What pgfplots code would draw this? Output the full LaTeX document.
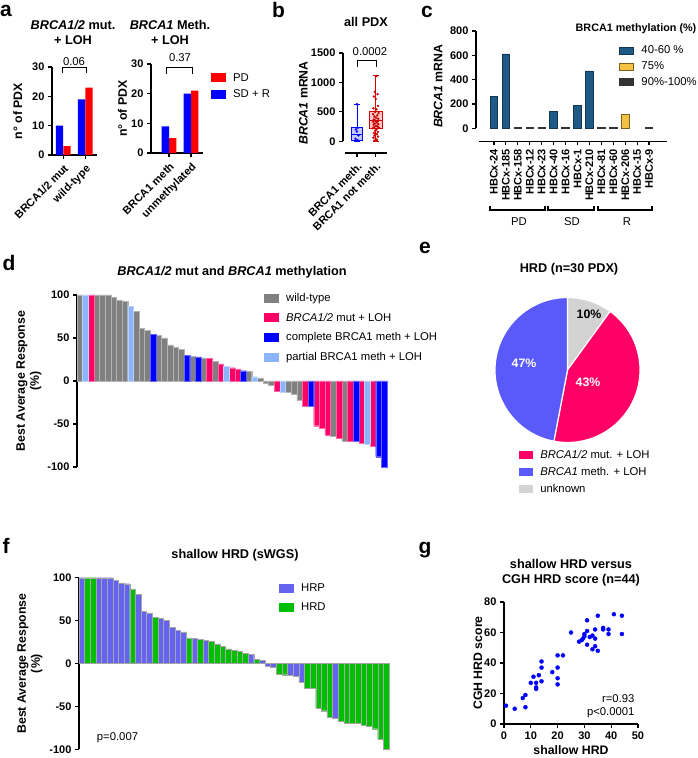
\documentclass[border=0pt]{standalone}
\usepackage{fontspec}
\setmainfont{Liberation Sans}
\usepackage{pgfplots}
\pgfplotsset{compat=1.18}
\usepgfplotslibrary{statistics}

\definecolor{wt}{RGB}{128,128,128}
\definecolor{mut}{RGB}{255,0,102}
\definecolor{comp}{RGB}{0,0,255}
\definecolor{part}{RGB}{140,180,250}
\definecolor{hrp}{RGB}{100,100,240}
\definecolor{hrd}{RGB}{0,190,0}
\definecolor{piepink}{RGB}{255,0,102}
\definecolor{pieblue}{RGB}{90,90,250}
\definecolor{piegray}{RGB}{211,211,211}
\definecolor{cblue}{RGB}{31,90,135}
\definecolor{cyel}{RGB}{245,195,66}
\definecolor{cdark}{RGB}{51,51,51}
\definecolor{pdred}{RGB}{255,0,0}
\definecolor{sdblue}{RGB}{0,0,255}

\newcommand\tickfont{\fontsize{11}{13}\selectfont\bfseries}
\newcommand\labfont{\fontsize{12.3}{14}\selectfont\bfseries}
\newcommand\titfont{\fontsize{12.7}{15}\selectfont\bfseries}
\newcommand\legfont{\fontsize{11.3}{13}\selectfont}
\newcommand\letfont{\fontsize{21}{24}\selectfont\bfseries}

\pgfplotsset{
  prism/.style={scale only axis, clip=false,
    axis x line*=bottom, axis y line*=left,
    axis line style={line width=1.2pt,-},
    every tick/.style={black,line width=1.2pt},
    tick align=outside, major tick length=4pt,
    tick label style={font=\tickfont},
    /pgf/number format/assume math mode=true,
    /pgf/number format/1000 sep={},
    label style={font=\labfont},
    legend style={draw=none,fill=none,font=\legfont,inner sep=0pt},
    legend cell align=left,
    legend image code/.code={\fill[##1, draw=none] (0pt,-4.5pt) rectangle (15pt,4.5pt); \path[draw=none, fill=none] (0pt,0pt) -- (20pt,0pt);},
  },
  yl/.style={ylabel style={at={(axis description cs:#1,0.5)}, anchor=center}},
}

\begin{document}
\begin{tikzpicture}
% ---------- panel letters ----------
\node[font=\letfont] at (6pt,747pt) {a};
\node[font=\letfont] at (278.5pt,748pt) {b};
\node[font=\letfont] at (427pt,746pt) {c};
\node[font=\letfont] at (9pt,495pt) {d};
\node[font=\letfont] at (425pt,510pt) {e};
\node[font=\letfont] at (6pt,212pt) {f};
\node[font=\letfont] at (425pt,208pt) {g};

% ---------- panel a (left) ----------
\begin{axis}[prism, at={(52pt,603pt)}, width=45pt, height=88pt,
  xmin=-0.51, xmax=1.53, ymin=0, ymax=30, ytick={0,10,20,30},
  xtick={0,1}, xticklabels={BRCA1/2 mut, wild-type},
  x tick label style={rotate=45, anchor=north east, font=\tickfont},
  ylabel={n° of PDX}, yl=-0.76]
\addplot[ybar, bar width=0.333, bar shift=0pt, fill=sdblue, draw=none] coordinates {(-0.1667,10) (0.8333,19)};
\addplot[ybar, bar width=0.333, bar shift=0pt, fill=pdred, draw=none] coordinates {(0.1667,3) (1.1667,23)};
\end{axis}
\node[font=\titfont, align=center] at (73pt,725.5pt) {\textit{BRCA1/2} mut.\\+ LOH};
\node[font=\legfont] at (74pt,696.5pt) {0.06};
\draw[line width=1pt] (62pt,685pt) |- (86pt,690pt) -- (86pt,685pt);

% ---------- panel a (right) ----------
\begin{axis}[prism, at={(151pt,605pt)}, width=52pt, height=89pt,
  xmin=-0.82, xmax=1.545, ymin=0, ymax=30, ytick={0,10,20,30},
  xtick={0,1}, xticklabels={BRCA1 meth, unmethylated},
  x tick label style={rotate=45, anchor=north east, font=\tickfont},
  ylabel={n° of PDX}, yl=-0.55,
  legend style={at={(1.154,0.92)}, anchor=north west, row sep=3pt}]
\addplot[ybar, bar width=0.333, bar shift=0pt, fill=pdred, draw=none] coordinates {(0.1667,5) (1.1667,21)};
\addplot[ybar, bar width=0.333, bar shift=0pt, fill=sdblue, draw=none] coordinates {(-0.1667,9) (0.8333,20)};
\legend{PD, SD + R}
\end{axis}
\node[font=\titfont, align=center] at (170pt,725.5pt) {\textit{BRCA1} Meth.\\+ LOH};
\node[font=\legfont] at (180pt,700pt) {0.37};
\draw[line width=1pt] (166.7pt,684pt) |- (192.3pt,690pt) -- (192.3pt,684pt);

% ---------- panel b ----------
\begin{axis}[prism, at={(343pt,605pt)}, width=44pt, height=100pt,
  xmin=-0.74, xmax=1.6, ymin=-200, ymax=1500, ytick={0,500,1000,1500},
  y axis line style={shorten <=12pt}, x axis line style={shorten <=2pt},
  xtick={0,1}, xticklabels={BRCA1 meth., BRCA1 not meth.},
  x tick label style={rotate=45, anchor=north east, font=\tickfont},
  ylabel={\textit{BRCA1} mRNA}, yl=-0.9]
\addplot[boxplot/draw direction=y, boxplot prepared={draw position=0, lower whisker=5, lower quartile=20,
  median=110, upper quartile=230, upper whisker=630, box extend=0.55, whisker extend=0.3},
  draw=blue, fill=blue!22, line width=0.8pt] coordinates {};
\addplot[boxplot/draw direction=y, boxplot prepared={draw position=1, lower whisker=5, lower quartile=215,
  median=350, upper quartile=505, upper whisker=1115, box extend=0.7, whisker extend=0.3},
  draw=red!85!black, fill=red!22, line width=0.8pt] coordinates {};
\addplot[only marks, mark=*, mark size=1pt, blue] coordinates {
(0,630) (0.05,230) (-0.05,200) (0,165) (0.08,100) (-0.08,40) (0.03,20) (-0.03,10) (0.06,5)};
\addplot[only marks, mark=*, mark size=1pt, red!80!black] coordinates {
(1.05,1110) (0.95,840) (1.1,800) (0.9,760) (1.0,720) (1.12,600) (0.88,560) (1.04,540)
(0.96,500) (1.15,480) (0.86,460) (1.08,440) (0.93,420) (1.02,400) (1.13,380) (0.9,370)
(0.98,350) (1.1,340) (0.87,330) (1.05,320) (0.95,300) (1.14,290) (0.89,280) (1.01,260)
(1.09,250) (0.92,240) (1.16,230) (0.85,220) (1.03,200) (0.97,180) (1.11,160) (0.9,140)
(1.06,120) (0.94,100) (1.12,80) (0.88,60) (1.0,40) (1.07,20) (0.93,10)};
\end{axis}
\node[font=\titfont] at (366pt,736pt) {all PDX};
\node[font=\legfont] at (370pt,706pt) {0.0002};
\draw[line width=1pt] (357pt,691pt) |- (376pt,697.3pt) -- (376pt,691pt);

% ---------- panel c ----------
\begin{axis}[prism, at={(476pt,616.5pt)}, width=191pt, height=110.5pt,
  xmin=-1.5, xmax=14.5, ymin=-107, ymax=800, ytick={0,200,400,600,800},
  y axis line style={shorten <=13pt}, x axis line style={shorten <=3pt},
  xtick={0,...,13},
  xticklabels={HBCx-24,HBCx-185,HBCx-158,HBCx-12,HBCx-23,HBCx-40,HBCx-16,HBCx-1,HBCx-210,HBCx-81,HBCx-60,HBCx-206,HBCx-15,HBCx-9},
  x tick label style={rotate=90, anchor=east, font=\tickfont},
  ylabel={\textit{BRCA1} mRNA}, yl=-0.198,
  legend style={at={(0.748,0.885)}, anchor=north west, row sep=2.5pt},
  legend image code/.code={\fill[#1] (0pt,-3.5pt) rectangle (14pt,3.5pt); \path[draw=none, fill=none] (0pt,0pt) -- (20pt,0pt);}]
\addplot[ybar, bar width=0.62, bar shift=0pt, fill=cblue, draw=cblue!60!black, line width=0.8pt] coordinates {(0,260) (1,612) (5,142) (7,191) (8,472)};
\addplot[ybar, bar width=0.62, bar shift=0pt, fill=cyel, draw=cyel!50!black, line width=0.8pt] coordinates {(11,117)};
\addplot[ybar, bar width=0.62, bar shift=0pt, fill=cdark, draw=cdark, line width=0.8pt] coordinates {(2,8) (3,8) (4,8) (6,8) (9,8) (10,8) (13,8)};
\legend{40-60 \%, 75\%, 90\%-100\%}
\end{axis}
\node[font=\fontsize{10.8}{12}\selectfont\bfseries] at (636pt,729pt) {BRCA1 methylation (\%)};
\draw[line width=1.2pt] (490pt,552pt) -- (490pt,548pt) -- (545pt,548pt) -- (545pt,552pt);
\draw[line width=1.2pt] (548pt,552pt) -- (548pt,548pt) -- (594pt,548pt) -- (594pt,552pt);
\draw[line width=1.2pt] (598pt,552pt) -- (598pt,548pt) -- (652pt,548pt) -- (652pt,552pt);
\node[font=\legfont] at (519pt,536pt) {PD};
\node[font=\legfont] at (572pt,536pt) {SD};
\node[font=\legfont] at (627pt,536pt) {R};

% ---------- panel d ----------
\begin{axis}[prism, axis x line=none, at={(77pt,291pt)}, width=310pt, height=172pt,
  xmin=0.5, xmax=55.5, ymin=-100, ymax=100, ytick={-100,-50,0,50,100},
  ylabel={Best Average Response\\(\%)}, ylabel style={align=center}, yl=-0.155,
  legend style={at={(0.603,1.023)}, anchor=north west, row sep=6pt}]
\addplot[ybar, bar width=1, bar shift=0pt, fill=wt, draw=wt!60!white, line width=0.3pt] coordinates {
(1,100)(4,100)(5,100)(6,100)(7,97)(8,94)(9,93)(11,81)(12,61)(13,59)(15,53)(16,50)(17,42)(18,39)(19,37)(21,29)(23,27)(25,23)(31,11)(33,3.5)(34,-3)(35,-4.5)(38,-13.5)(39,-15)(40,-22)(46,-64)(48,-70)};
\addplot[ybar, bar width=1, bar shift=0pt, fill=mut, draw=mut!60!white, line width=0.3pt] coordinates {
(3,100)(24,26)(26,20)(28,15.5)(29,14)(36,-12)(41,-29)(43,-52)(44,-55)(45,-63)(47,-67)(49,-70)(51,-72)(53,-76)};
\addplot[ybar, bar width=1, bar shift=0pt, fill=comp, draw=comp!60!white, line width=0.3pt] coordinates {
(14,54)(20,30)(22,28)(30,12)(42,-29)(50,-70)(54,-88)(55,-100)};
\addplot[ybar, bar width=1, bar shift=0pt, fill=part, draw=part!60!white, line width=0.3pt] coordinates {
(2,100)(10,87)(27,17)(32,5)(37,-13)(52,-73.5)};
\legend{wild-type, \textit{BRCA1/2} mut + LOH, complete BRCA1 meth + LOH, partial BRCA1 meth + LOH}
\end{axis}
\node[font=\titfont] at (232pt,486pt) {\textit{BRCA1/2} mut and \textit{BRCA1} methylation};

% ---------- panel e ----------
\def\pA{10}\def\pB{43}\def\pC{47}
\begin{axis}[prism, hide axis, at={(495pt,315.5pt)}, width=145pt, height=145pt,
  xmin=-1, xmax=1, ymin=-1, ymax=1,
  legend style={at={(0.166,-0.038)}, anchor=north west, row sep=3.5pt},
  legend image code/.code={\fill[#1, draw=none] (0pt,-4pt) rectangle (14pt,4pt); \path[draw=none, fill=none] (0pt,0pt) -- (19pt,0pt);}]
\addlegendimage{fill=piepink}
\addlegendentry{\textit{BRCA1/2} mut. + LOH}
\addlegendimage{fill=pieblue}
\addlegendentry{\textit{BRCA1} meth. + LOH}
\addlegendimage{fill=piegray}
\addlegendentry{unknown}
\fill[piegray, draw=white, line width=1.2pt] (axis cs:0,0) -- ++(90:72.5pt) arc[start angle=90, delta angle=-3.6*\pA, radius=72.5pt] -- cycle;
\fill[piepink, draw=white, line width=1.2pt] (axis cs:0,0) -- ++({90-3.6*\pA}:72.5pt) arc[start angle={90-3.6*\pA}, delta angle=-3.6*\pB, radius=72.5pt] -- cycle;
\fill[pieblue, draw=white, line width=1.2pt] (axis cs:0,0) -- ++({90-3.6*(\pA+\pB)}:72.5pt) arc[start angle={90-3.6*(\pA+\pB)}, delta angle=-3.6*\pC, radius=72.5pt] -- cycle;
\end{axis}
\node[font=\titfont] at (569pt,489pt) {HRD (n=30 PDX)};
\node[font=\fontsize{12.3}{14}\selectfont\bfseries] at (589pt,444pt) {10\%};
\node[font=\fontsize{12.3}{14}\selectfont\bfseries, white] at (588pt,375.3pt) {43\%};
\node[font=\fontsize{12.3}{14}\selectfont\bfseries, white] at (524pt,395pt) {47\%};

% ---------- panel f ----------
\begin{axis}[prism, axis x line=none, at={(79pt,8.7pt)}, width=310pt, height=171.6pt,
  xmin=0.5, xmax=55.5, ymin=-100, ymax=100, ytick={-100,-50,0,50,100},
  ylabel={Best Average Response\\(\%)}, ylabel style={align=center}, yl=-0.158,
  legend style={at={(0.645,0.975)}, anchor=north west, row sep=5pt}]
\addplot[ybar, bar width=1, bar shift=0pt, fill=hrp, draw=gray!70, line width=0.3pt] coordinates {
(1,100)(4,100)(5,100)(6,100)(7,97)(8,94)(9,93)(11,81)(12,61)(13,59)(15,53)(16,50)(17,42)(18,39)(19,37)(21,29)(23,27)(31,11)(33,3.5)(34,-3)(35,-4.5)(38,-13.5)(39,-15)(40,-22)(46,-64)};
\addplot[ybar, bar width=1, bar shift=0pt, fill=hrd, draw=gray!70, line width=0.3pt] coordinates {
(2,100)(3,100)(10,87)(14,54)(20,30)(22,28)(24,26)(25,23)(26,20)(27,17)(28,15.5)(29,14)(30,12)(32,5)(36,-12)(37,-13)(41,-29)(42,-29)(43,-52)(44,-55)(45,-63)(47,-67)(48,-70)(49,-70)(50,-70)(51,-72)(52,-73.5)(53,-76)(54,-88)(55,-100)};
\legend{HRP, HRD}
\end{axis}
\node[font=\titfont] at (235pt,203pt) {shallow HRD (sWGS)};
\node[font=\legfont] at (117.5pt,20pt) {p=0.007};

% ---------- panel g ----------
\begin{axis}[prism, at={(504pt,34pt)}, width=134pt, height=122pt,
  xmin=0, xmax=50, ymin=0, ymax=80, xtick={0,10,20,30,40,50}, ytick={0,20,40,60,80},
  xlabel={shallow HRD}, ylabel={CGH HRD score}, yl=-0.194,
  xlabel style={at={(axis description cs:0.5,-0.215)}, anchor=center}]
\addplot[only marks, mark=*, mark size=2pt, color=blue] coordinates {
(0.75,12)(4,10)(7,17)(8,19)(8,11)(10,27)(11,31)(12,27)(12,24)(12,23)(13,32)(14,41)(14,37)(14,28)
(18,34)(20,45)(20,37)(20,30)(20,26)(22,45)(25,60)(28,54)(29,55)(29.5,56)(30,57.5)(30,59)
(31,68)(31,61)(31,52)(32,57)(33,58)(33,49)(34,56)(34,62)(34,51)(35,71)(35,48)(37,63)(37,62)
(39,62)(39,59)(41,72)(44,71)(44,59)};
\end{axis}
\node[font=\titfont, align=center] at (571pt,185pt) {shallow HRD versus\\CGH HRD score (n=44)};
\node[font=\legfont, align=right, anchor=east] at (638pt,51.5pt) {r=0.93\\p<0.0001};

\pgfresetboundingbox
\useasboundingbox (0pt,0pt) rectangle (698pt,758pt);
\end{tikzpicture}
\end{document}
